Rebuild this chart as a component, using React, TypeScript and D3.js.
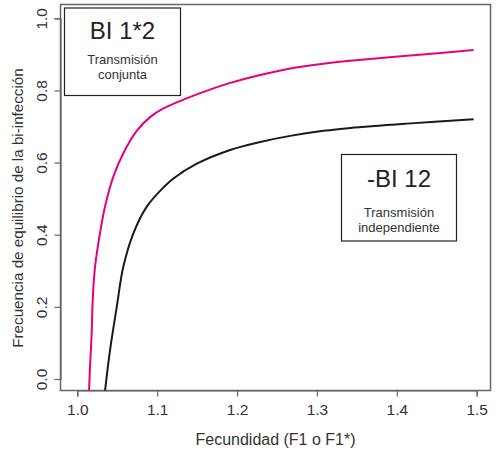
import React, { useEffect, useRef } from "react";
import * as d3 from "d3";

// fecundity (F1 o F1*) values
const fecJoint = [
  1.0147, 1.0159, 1.018, 1.0193, 1.0222, 1.0284, 1.0347, 1.0451, 1.0576,
  1.0744, 1.0911, 1.1078, 1.1496, 1.1914, 1.229, 1.2665, 1.3083, 1.3417,
  1.4128, 1.4962,
];
const freqJoint = [
  -0.033, 0.034, 0.127, 0.219, 0.311, 0.404, 0.478, 0.561, 0.626, 0.688,
  0.726, 0.75, 0.789, 0.821, 0.843, 0.861, 0.874, 0.882, 0.896, 0.912,
];

const fecIndep = [
  1.0347, 1.041, 1.0494, 1.0576, 1.0702, 1.087, 1.1078, 1.1203, 1.1496,
  1.1914, 1.229, 1.2665, 1.3083, 1.3417, 1.4128, 1.4962,
];
const freqIndep = [
  -0.033, 0.08, 0.2, 0.311, 0.404, 0.478, 0.531, 0.556, 0.597, 0.635, 0.657,
  0.674, 0.688, 0.696, 0.708, 0.72,
];

const xTicks = [1.0, 1.1, 1.2, 1.3, 1.4, 1.5];
const yTicks = [0.0, 0.2, 0.4, 0.6, 0.8, 1.0];

const W = 498;
const H = 453;
const box = { left: 60.5, top: 4.5, right: 490.5, bottom: 390.5 };
const font = "'Liberation Sans', Arial, Helvetica, sans-serif";

const App = () => {
  const svgRef = useRef<SVGSVGElement>(null);

  useEffect(() => {
    const svg = d3.select(svgRef.current);
    svg.selectAll("*").remove();

    const x = d3.scaleLinear().domain([1.0, 1.5]).range([77.3, 476.7]);
    const y = d3.scaleLinear().domain([0, 1]).range([379, 18.3]);

    svg
      .append("defs")
      .append("clipPath")
      .attr("id", "plotclip")
      .append("rect")
      .attr("x", box.left)
      .attr("y", box.top)
      .attr("width", box.right - box.left)
      .attr("height", box.bottom - box.top);

    // x axis
    const xAxis = d3
      .axisBottom(x)
      .tickValues(xTicks)
      .tickSize(6)
      .tickPadding(7)
      .tickFormat(d3.format(".1f"));
    const gx = svg
      .append("g")
      .attr("transform", "translate(0," + box.bottom + ")")
      .call(xAxis);
    gx.select(".domain").attr("stroke", "#666").attr("stroke-width", 1.2);
    gx.selectAll(".tick line").attr("stroke", "#666").attr("stroke-width", 1.2);
    gx.selectAll(".tick text")
      .attr("font-family", font)
      .attr("font-size", 15.5)
      .attr("fill", "#333");

    // y axis, labels rotated like R
    const yAxis = d3.axisLeft(y).tickValues(yTicks).tickSize(6).tickFormat(d3.format(".1f"));
    const gy = svg
      .append("g")
      .attr("transform", "translate(" + box.left + ",0)")
      .call(yAxis);
    gy.select(".domain").attr("stroke", "#666").attr("stroke-width", 1.2);
    gy.selectAll(".tick line").attr("stroke", "#666").attr("stroke-width", 1.2);
    gy.selectAll(".tick text")
      .attr("font-family", font)
      .attr("font-size", 15.5)
      .attr("fill", "#333")
      .attr("x", null)
      .attr("dy", null)
      .attr("text-anchor", "middle")
      .attr("transform", "translate(-13.5,0) rotate(-90)");

    // plot frame
    svg
      .append("rect")
      .attr("x", box.left)
      .attr("y", box.top)
      .attr("width", box.right - box.left)
      .attr("height", box.bottom - box.top)
      .attr("fill", "none")
      .attr("stroke", "#666")
      .attr("stroke-width", 1.5);

    const line = d3
      .line<[number, number]>()
      .x((d) => x(d[0]))
      .y((d) => y(d[1]))
      .curve(d3.curveCatmullRom.alpha(0.5));

    const curves = svg.append("g").attr("clip-path", "url(#plotclip)");
    curves
      .append("path")
      .attr("d", line(fecIndep.map((f, i) => [f, freqIndep[i]] as [number, number])))
      .attr("fill", "none")
      .attr("stroke", "#1a1a1a")
      .attr("stroke-width", 2);
    curves
      .append("path")
      .attr("d", line(fecJoint.map((f, i) => [f, freqJoint[i]] as [number, number])))
      .attr("fill", "none")
      .attr("stroke", "#e6007e")
      .attr("stroke-width", 2);

    // legend boxes
    const legends = [
      { x0: 64.5, y0: 8, x1: 180.5, y1: 95.5, title: "BI 1*2", sub: ["Transmisión", "conjunta"], tb: 38.5, sb: 63.5 },
      { x0: 341.5, y0: 154.5, x1: 456.5, y1: 241, title: "-BI 12", sub: ["Transmisión", "independiente"], tb: 187, sb: 216.5 },
    ];
    legends.forEach((l) => {
      const g = svg.append("g");
      g.append("rect")
        .attr("x", l.x0)
        .attr("y", l.y0)
        .attr("width", l.x1 - l.x0)
        .attr("height", l.y1 - l.y0)
        .attr("fill", "white")
        .attr("stroke", "#222")
        .attr("stroke-width", 1.2);
      const cx = (l.x0 + l.x1) / 2;
      g.append("text")
        .attr("x", cx)
        .attr("y", l.tb)
        .attr("text-anchor", "middle")
        .attr("font-family", font)
        .attr("font-size", 24)
        .attr("fill", "#222")
        .text(l.title);
      l.sub.forEach((s, i) => {
        g.append("text")
          .attr("x", cx)
          .attr("y", l.sb + i * 15)
          .attr("text-anchor", "middle")
          .attr("font-family", font)
          .attr("font-size", 13)
          .attr("fill", "#333")
          .text(s);
      });
    });

    // axis titles
    svg
      .append("text")
      .attr("x", (box.left + box.right) / 2)
      .attr("y", 445)
      .attr("text-anchor", "middle")
      .attr("font-family", font)
      .attr("font-size", 16)
      .attr("fill", "#333")
      .text("Fecundidad (F1 o F1*)");
    svg
      .append("text")
      .attr("transform", "translate(23,208) rotate(-90)")
      .attr("text-anchor", "middle")
      .attr("font-family", font)
      .attr("font-size", 15.2)
      .attr("fill", "#333")
      .text("Frecuencia de equilibrio de la bi-infección");
  }, []);

  return (
    <div style={{ position: "absolute", left: 0, top: 0, background: "white" }}>
      <svg ref={svgRef} width={W} height={H} style={{ display: "block" }}></svg>
    </div>
  );
};

export default App;
